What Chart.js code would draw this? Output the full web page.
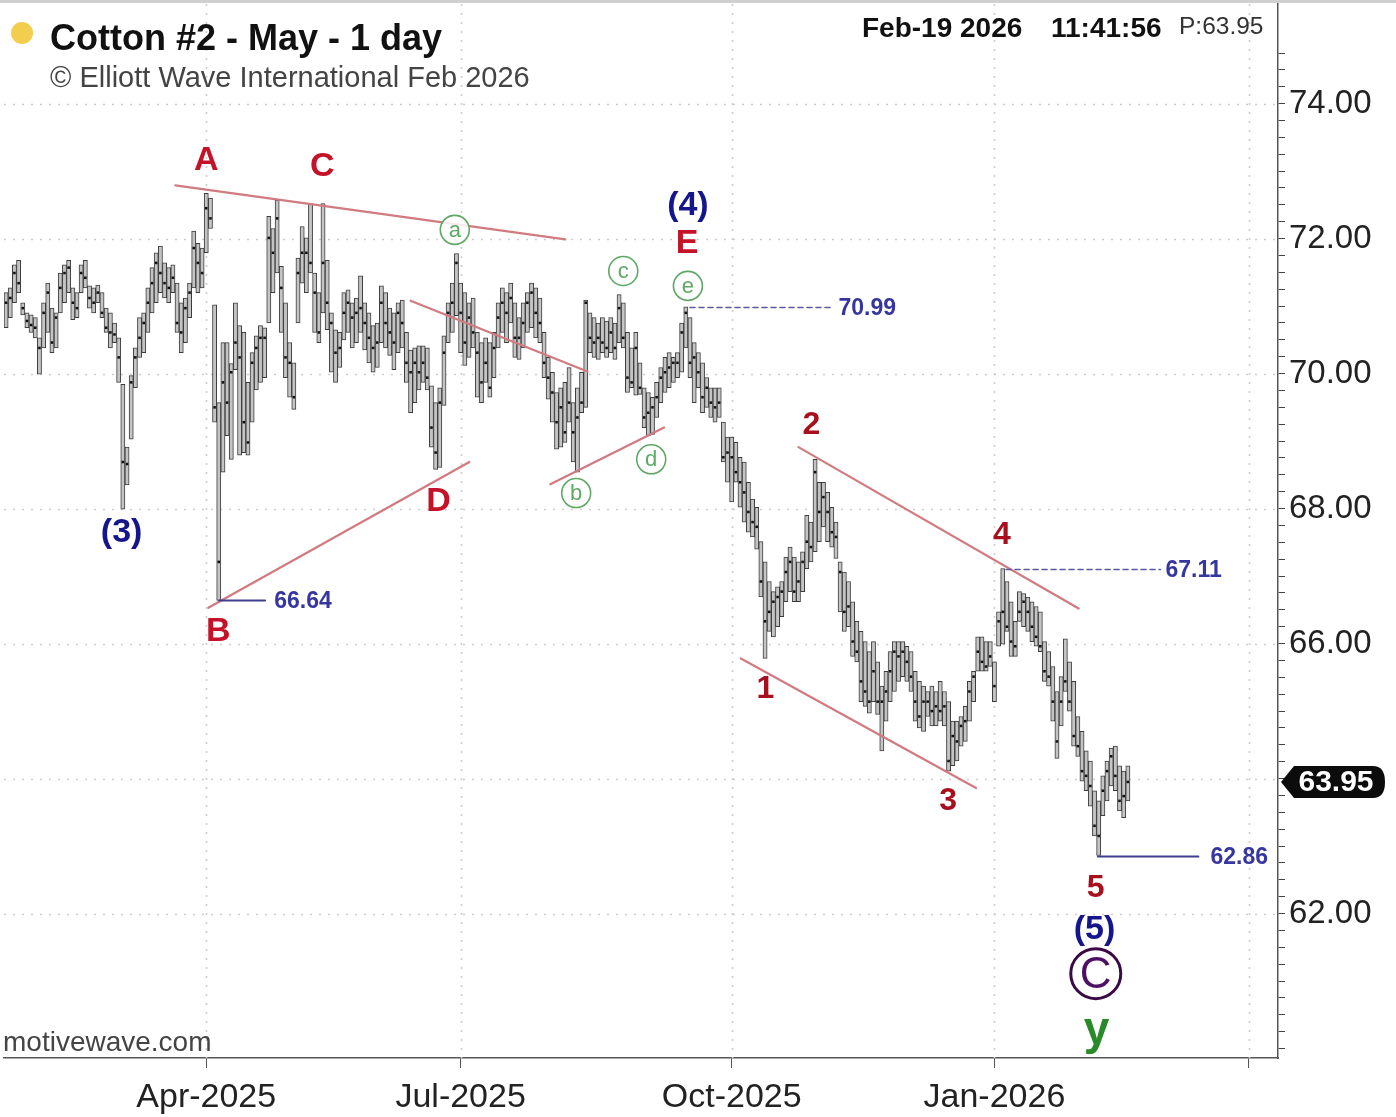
<!DOCTYPE html>
<html><head><meta charset="utf-8">
<script src="https://cdn.jsdelivr.net/npm/chart.js@4.4.1/dist/chart.umd.min.js"></script>
<style>
html,body{margin:0;padding:0;background:#fff;}
#wrap{position:relative;width:1396px;height:1117px;overflow:hidden;background:#fff}
#c{position:absolute;left:0;top:0}
.t{position:absolute;font-family:"Liberation Sans",Arial,sans-serif;white-space:nowrap;line-height:1}
</style></head><body>
<div id="wrap">
<canvas id="c" width="1396" height="1117"></canvas>
<div style="position:absolute;left:0;top:0;width:1396px;height:3px;background:#cfcfcf"></div>
<div style="position:absolute;left:11px;top:22px;width:22px;height:22px;border-radius:50%;background:#f3cd4e"></div>
<div class="t" style="left:50px;top:20px;font-size:36px;font-weight:bold;color:#111">Cotton #2 - May - 1 day</div>
<div class="t" style="left:50px;top:63px;font-size:29px;color:#444">© Elliott Wave International Feb 2026</div>
<div class="t" style="left:862px;top:14px;font-size:28px;font-weight:bold;color:#111">Feb-19 2026</div>
<div class="t" style="left:1051px;top:14px;font-size:28px;font-weight:bold;color:#111">11:41:56</div>
<div class="t" style="left:1179px;top:14px;font-size:24.5px;color:#333">P:63.95</div>
<div class="t" style="left:3px;top:1028px;font-size:28px;color:#444">motivewave.com</div>
</div>
<script>
// ---- data (trading-day index 0 = late Jan 2025, 269 = Feb-19 2026) ----
const highs = [
71.20,71.27,71.61,71.68,71.05,70.90,70.87,70.83,70.53,71.05,
71.34,70.97,70.90,71.49,71.61,71.68,71.27,71.20,71.61,71.68,
71.30,71.27,71.31,71.20,70.97,70.90,70.75,70.53,69.84,68.91,
69.97,70.38,70.83,70.90,71.27,71.57,71.79,71.89,71.64,71.57,
71.61,71.34,71.05,71.12,71.34,72.11,71.93,71.86,72.67,72.60,
71.02,69.57,70.46,70.46,70.15,71.05,70.71,70.61,69.87,70.31,
70.56,70.71,70.68,72.33,72.15,72.57,71.59,71.05,70.46,70.16,
71.71,72.18,72.01,72.52,71.49,71.20,72.52,71.68,70.90,70.65,
70.61,71.20,71.24,71.05,71.12,71.45,71.05,70.90,70.71,70.75,
71.30,71.20,70.97,70.90,71.05,71.09,70.61,70.35,70.38,70.41,
70.41,70.38,69.82,69.57,69.79,70.56,71.05,71.34,71.78,71.34,
71.20,71.05,71.12,70.61,70.46,70.53,70.46,70.61,71.05,71.27,
71.20,71.34,71.05,70.83,71.05,71.20,71.34,71.27,71.12,70.61,
70.24,70.02,69.72,69.79,69.87,70.09,69.57,69.79,70.02,71.09,
70.90,70.83,70.75,70.83,70.78,70.83,70.75,71.17,71.05,70.61,
70.38,70.61,70.16,69.79,69.72,69.65,69.87,70.09,70.24,70.31,
70.24,70.31,70.75,70.99,70.83,70.46,70.31,70.16,69.94,69.79,
69.79,69.79,69.28,69.06,69.06,68.98,68.76,68.69,68.39,68.14,
68.02,67.51,67.21,66.92,66.77,66.84,66.92,67.28,67.43,67.28,
67.21,67.36,67.90,67.80,68.73,68.39,68.39,68.24,68.02,67.80,
67.21,67.06,66.92,66.62,66.33,66.18,66.03,65.88,66.03,65.73,
65.37,65.59,65.88,66.03,66.03,66.03,65.96,65.88,65.59,65.44,
65.37,65.29,65.37,65.29,65.44,65.29,65.14,64.85,64.85,64.92,
65.07,65.44,65.59,66.10,66.10,66.03,66.03,65.73,66.47,67.11,
66.92,66.62,66.33,66.77,66.74,66.69,66.62,66.55,66.47,66.03,
65.88,65.66,65.29,65.51,66.07,65.73,65.44,64.92,64.70,64.41,
64.26,63.82,63.67,64.04,64.26,64.45,64.48,64.19,64.11,64.19
];
const lows = [
70.68,70.83,71.05,71.20,70.87,70.68,70.61,70.53,69.99,70.38,
70.61,70.31,70.38,70.90,71.05,71.20,70.80,70.83,71.20,71.27,
70.97,70.90,71.05,70.83,70.61,70.38,70.46,69.87,67.99,68.35,
69.03,69.79,70.24,70.31,70.61,70.90,71.05,71.20,71.12,71.05,
71.20,70.61,70.31,70.46,70.83,71.27,71.20,71.27,71.79,72.15,
69.28,66.64,68.54,69.08,68.73,70.06,68.79,68.83,68.79,69.28,
69.76,69.87,69.94,70.75,71.20,71.49,70.61,69.94,69.65,69.47,
70.75,71.34,71.20,71.49,70.61,70.46,70.90,70.65,70.02,69.87,
70.09,70.50,70.61,70.38,70.46,70.61,70.35,70.16,70.02,70.09,
70.46,70.38,70.27,70.06,70.31,70.38,69.87,69.42,69.57,69.76,
69.87,69.76,68.91,68.58,68.61,69.53,70.46,70.61,70.86,70.31,
70.12,70.24,70.38,69.65,69.57,69.87,69.65,69.94,70.38,70.61,
70.46,70.75,70.24,70.21,70.38,70.61,70.68,70.53,70.46,69.94,
69.62,69.28,68.88,68.91,68.98,69.28,68.69,68.54,69.42,69.50,
70.31,70.24,70.21,70.31,70.24,70.31,70.21,70.46,70.38,69.72,
69.79,69.68,69.69,69.20,69.08,69.10,69.35,69.57,69.72,69.79,
69.87,69.94,70.02,70.38,69.94,69.57,69.79,69.42,69.50,69.35,
69.28,69.35,68.69,68.39,68.10,68.39,68.02,67.80,67.65,67.58,
67.40,66.69,65.78,66.18,66.10,66.25,66.40,66.62,66.77,66.62,
66.62,66.77,67.11,67.21,67.36,67.51,67.73,67.51,67.43,67.26,
66.47,66.18,66.25,65.81,65.73,65.14,65.07,64.97,65.14,64.95,
64.41,64.85,65.14,65.29,65.44,65.51,65.44,65.29,64.85,64.75,
64.70,64.92,64.78,64.78,64.85,64.78,64.11,64.19,64.26,64.48,
64.55,64.85,65.14,65.59,65.59,65.59,65.66,65.14,65.96,65.99,
66.18,65.81,65.81,66.33,66.25,66.18,66.03,65.96,65.88,65.44,
65.37,64.85,64.30,64.78,65.29,65.00,64.48,64.33,63.96,63.82,
63.59,63.15,62.86,63.45,63.67,63.89,63.82,63.52,63.42,63.67
];
const closes = [
71.05,71.12,71.49,71.34,70.97,70.78,70.72,70.68,70.38,70.90,
71.20,70.46,70.83,71.27,71.49,71.57,71.05,70.97,71.49,71.42,
71.12,71.05,71.20,70.90,70.68,70.61,70.58,70.24,68.69,68.66,
69.87,70.24,70.53,70.75,71.05,71.34,71.64,71.49,71.34,71.27,
71.42,70.75,70.61,70.97,71.20,71.86,71.64,71.49,72.45,72.30,
69.50,67.21,69.87,69.57,70.02,70.46,70.24,69.28,68.98,70.16,
70.38,70.53,70.53,72.01,71.79,72.30,71.27,70.24,70.16,69.65,
71.49,71.79,71.79,71.64,71.20,70.61,71.64,71.05,70.75,70.31,
70.38,70.90,71.05,70.83,70.90,70.97,70.75,70.53,70.38,70.46,
71.05,70.75,70.61,70.46,70.90,70.75,70.16,70.02,70.16,70.02,
70.16,69.94,69.20,68.83,69.57,70.31,70.90,71.05,71.64,70.90,
70.46,70.83,70.61,70.31,69.87,70.16,69.79,70.38,70.83,71.05,
70.90,71.12,70.53,70.53,70.75,71.05,71.20,70.90,70.75,70.16,
69.94,69.72,69.28,69.50,69.13,69.57,69.13,69.35,69.57,71.05,
70.53,70.46,70.53,70.46,70.38,70.61,70.38,70.97,70.53,69.94,
69.87,70.38,69.79,69.35,69.42,69.50,69.65,69.94,70.02,70.09,
70.16,70.16,70.61,70.90,70.16,70.24,70.02,69.65,69.79,69.57,
69.50,69.57,68.76,68.83,68.76,68.54,68.39,68.24,67.95,67.80,
67.73,66.92,66.33,66.47,66.62,66.69,66.77,67.06,67.21,66.77,
66.92,67.21,67.51,67.43,68.54,67.95,68.17,67.95,67.65,67.58,
67.06,66.47,66.55,66.03,65.88,65.44,65.29,65.14,65.59,65.14,
65.14,65.29,65.59,65.88,65.81,65.88,65.73,65.51,65.14,64.92,
65.14,65.14,65.00,65.07,65.00,65.07,64.26,64.63,64.55,64.78,
64.85,65.29,65.51,65.88,65.73,65.66,65.81,65.37,66.33,66.47,
66.25,66.03,65.96,66.47,66.62,66.47,66.25,66.10,65.96,65.59,
65.51,65.14,64.55,65.14,65.44,65.14,64.63,64.48,64.11,64.04,
63.89,63.30,63.15,63.82,64.11,64.33,64.04,63.67,63.74,63.95
];
const xTickIdx = [48, 109, 174, 237, 298];
const xTickLabels = ['Apr-2025', 'Jul-2025', 'Oct-2025', 'Jan-2026', ''];
const yGridVals = [62, 64, 66, 68, 70, 72, 74];
const yLabelVals = [62, 66, 68, 70, 72, 74];
const lastPrice = 63.95;

// ---- annotations (data coordinates: trading-day index, price) ----
const trendLines = [
  [40.6, 72.79, 134.1, 71.99],
  [48.5, 66.53, 111.1, 68.69],
  [97.0, 71.08, 139.4, 70.03],
  [130.5, 68.36, 157.8, 69.20],
  [190.0, 68.91, 257.2, 66.52],
  [176.2, 65.78, 232.6, 63.86]
];
const levels = [
  {p: 66.64, from: 51.1, to: 62.1, dashed: false, lab: 64.3},
  {p: 70.99, from: 164.0, to: 197.9, dashed: true, lab: 199.6},
  {p: 67.11, from: 239.8, to: 276.8, dashed: true, lab: 278.0},
  {p: 62.86, from: 261.8, to: 285.9, dashed: false, lab: 288.8}
];
const RED = '#c41228', DRED = '#a80f1e', NAVY = '#15158c', GRN = '#5fa865';
const waveLabels = [
  {t:'A', i:48.0, p:73.16, c:RED, f:'bold 34px'},
  {t:'C', i:75.8, p:73.07, c:RED, f:'bold 34px'},
  {t:'B', i:50.9, p:66.18, c:RED, f:'bold 34px'},
  {t:'D', i:103.7, p:68.10, c:RED, f:'bold 34px'},
  {t:'E', i:163.3, p:71.93, c:RED, f:'bold 34px'},
  {t:'(4)', i:163.5, p:72.49, c:NAVY, f:'bold 34px'},
  {t:'(3)', i:27.7, p:67.65, c:NAVY, f:'bold 34px'},
  {t:'1', i:182.1, p:65.32, c:DRED, f:'bold 32px'},
  {t:'2', i:193.1, p:69.23, c:DRED, f:'bold 32px'},
  {t:'3', i:225.9, p:63.67, c:DRED, f:'bold 32px'},
  {t:'4', i:238.8, p:67.61, c:DRED, f:'bold 32px'},
  {t:'5', i:261.3, p:62.38, c:DRED, f:'bold 32px'},
  {t:'(5)', i:261.0, p:61.76, c:NAVY, f:'bold 34px'},
  {t:'y', i:261.5, p:60.26, c:'#2a8a2a', f:'bold 46px'}
];
const circled = [
  {t:'a', i:107.6, p:72.13}, {t:'b', i:136.7, p:68.23}, {t:'c', i:148.0, p:71.52},
  {t:'d', i:154.7, p:68.73}, {t:'e', i:163.5, p:71.30}
];
const bigCircle = {t:'C', i:261.3, p:61.11};

const FF = '"Liberation Sans", Arial, sans-serif';

const gridPlugin = {
  id: 'dotgrid',
  beforeDatasetsDraw(c) {
    const ctx = c.ctx, a = c.chartArea, xs = c.scales.x, ys = c.scales.y;
    ctx.save();
    ctx.strokeStyle = '#cdcdcd'; ctx.lineWidth = 1.6; ctx.setLineDash([2, 7]);
    yGridVals.forEach(v => { const y = Math.round(ys.getPixelForValue(v)) + 0.5;
      ctx.beginPath(); ctx.moveTo(a.left, y); ctx.lineTo(a.right, y); ctx.stroke(); });
    xTickIdx.forEach(v => { const x = Math.round(xs.getPixelForValue(v)) + 0.5;
      ctx.beginPath(); ctx.moveTo(x, a.top); ctx.lineTo(x, a.bottom); ctx.stroke(); });
    ctx.restore();
  }
};

const annoPlugin = {
  id: 'anno',
  afterDatasetsDraw(c) {
    const ctx = c.ctx, xs = c.scales.x, ys = c.scales.y;
    const X = v => xs.getPixelForValue(v), Y = v => ys.getPixelForValue(v);
    ctx.save();
    ctx.strokeStyle = '#d17a80'; ctx.lineWidth = 2.2; ctx.lineCap = 'round';
    trendLines.forEach(l => { ctx.beginPath(); ctx.moveTo(X(l[0]), Y(l[1])); ctx.lineTo(X(l[2]), Y(l[3])); ctx.stroke(); });
    levels.forEach(l => {
      const y = Math.round(Y(l.p)) + 0.5;
      ctx.strokeStyle = l.dashed ? '#5a5aa6' : '#3e3e8e';
      ctx.lineWidth = l.dashed ? 1.6 : 2;
      ctx.setLineDash(l.dashed ? [5, 4] : []);
      ctx.beginPath(); ctx.moveTo(X(l.from), y); ctx.lineTo(X(l.to), y); ctx.stroke();
      ctx.setLineDash([]);
      ctx.fillStyle = '#3636a0'; ctx.font = 'bold 23px ' + FF;
      ctx.textAlign = 'left'; ctx.textBaseline = 'middle';
      ctx.fillText(l.p.toFixed(2), X(l.lab), y + 1);
    });
    ctx.textAlign = 'center'; ctx.textBaseline = 'middle';
    waveLabels.forEach(w => { ctx.fillStyle = w.c; ctx.font = w.f + ' ' + FF; ctx.fillText(w.t, X(w.i), Y(w.p)); });
    circled.forEach(w => {
      const x = X(w.i), y = Y(w.p);
      ctx.fillStyle = 'rgba(255,255,255,0.85)';
      ctx.beginPath(); ctx.arc(x, y, 14.5, 0, Math.PI * 2); ctx.fill();
      ctx.strokeStyle = GRN; ctx.lineWidth = 1.6; ctx.stroke();
      ctx.fillStyle = GRN; ctx.font = '22px ' + FF; ctx.fillText(w.t, x, y + 1);
    });
    {
      const x = X(bigCircle.i), y = Y(bigCircle.p);
      ctx.beginPath(); ctx.arc(x, y, 25, 0, Math.PI * 2);
      ctx.strokeStyle = '#3a0a45'; ctx.lineWidth = 3; ctx.stroke();
      ctx.fillStyle = '#4d1062'; ctx.font = '44px ' + FF; ctx.fillText(bigCircle.t, x, y + 2);
    }
    ctx.restore();
  },
  afterDraw(c) {
    const ctx = c.ctx, ys = c.scales.y, a = c.chartArea;
    const y = ys.getPixelForValue(lastPrice), x0 = a.right + 3;
    ctx.save();
    ctx.fillStyle = '#0c0c0c';
    ctx.beginPath();
    ctx.moveTo(x0, y);
    ctx.lineTo(x0 + 13, y - 16);
    ctx.lineTo(x0 + 92, y - 16);
    ctx.quadraticCurveTo(x0 + 104, y - 16, x0 + 104, y);
    ctx.quadraticCurveTo(x0 + 104, y + 16, x0 + 92, y + 16);
    ctx.lineTo(x0 + 13, y + 16);
    ctx.closePath(); ctx.fill();
    ctx.fillStyle = '#fff'; ctx.font = 'bold 30px ' + FF;
    ctx.textAlign = 'center'; ctx.textBaseline = 'middle';
    ctx.fillText(lastPrice.toFixed(2), x0 + 55, y + 1);
    ctx.restore();
  }
};

Chart.defaults.font.family = FF;
new Chart(document.getElementById('c'), {
  type: 'bar',
  data: {
    datasets: [
      { type: 'bar', data: highs.map((h, i) => ({x: i, y: [lows[i], h]})),
        backgroundColor: '#c4c4c4', borderColor: '#3c3c3c', borderWidth: 1,
        borderSkipped: false, barThickness: 4.2, order: 2 },
      { type: 'line', data: closes.map((v, i) => ({x: i, y: v})), showLine: false,
        pointStyle: 'rect', pointRadius: 1.8, pointBackgroundColor: '#111', pointBorderWidth: 0, order: 1 }
    ]
  },
  options: {
    responsive: false, animation: false, devicePixelRatio: 1,
    layout: {padding: 0},
    events: [],
    plugins: {legend: {display: false}, tooltip: {enabled: false}},
    scales: {
      x: {
        type: 'linear', min: -0.5, max: 305, offset: false,
        grid: {display: true, drawOnChartArea: false, drawTicks: true, tickLength: 10, color: '#555', offset: false},
        border: {display: true, color: '#555', width: 1.5},
        afterBuildTicks: s => { s.ticks = xTickIdx.map(v => ({value: v})); },
        ticks: {autoSkip: false, maxRotation: 0, padding: 9, color: '#222', font: {size: 34},
          callback: v => { const k = xTickIdx.indexOf(v); return k >= 0 ? xTickLabels[k] : ''; }},
        afterFit: s => { s.height = 59; s.paddingLeft = 0; s.paddingRight = 0; }
      },
      y: {
        position: 'right', min: 59.86, max: 75.476,
        grid: {display: true, drawOnChartArea: false, drawTicks: true, tickLength: 7, color: '#444'},
        border: {display: true, color: '#555', width: 1.5},
        afterBuildTicks: s => { const t = []; for (let k = 240; k <= 299; k++) t.push({value: k / 4}); s.ticks = t; },
        ticks: {autoSkip: false, padding: 4, color: '#222', font: {size: 33},
          callback: v => yLabelVals.includes(v) ? v.toFixed(2) : ''},
        afterFit: s => { s.width = 118; s.paddingTop = 0; s.paddingBottom = 0; }
      }
    }
  },
  plugins: [gridPlugin, annoPlugin]
});
</script>
</body></html>
